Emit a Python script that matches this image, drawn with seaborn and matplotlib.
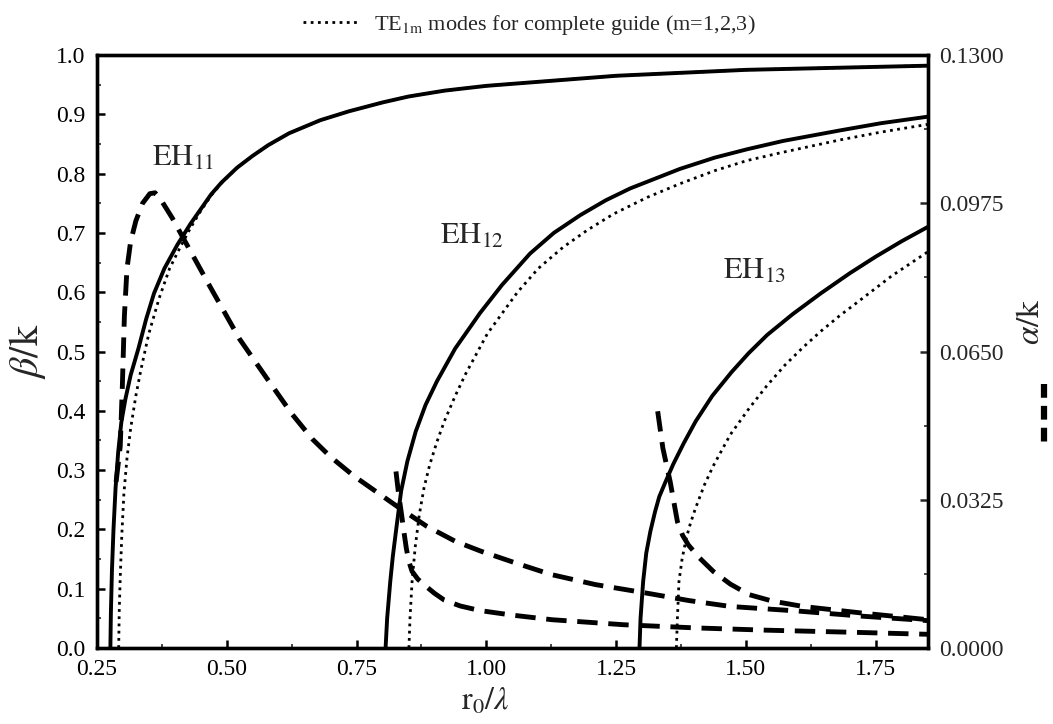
import numpy as np
import pandas as pd
import matplotlib
matplotlib.use("Agg")
import matplotlib.pyplot as plt
from matplotlib.lines import Line2D
from matplotlib.ticker import MultipleLocator, FixedLocator, FormatStrFormatter
import seaborn as sns

# ---------------- data ----------------
# beta/k curves (left axis)
eh11_x = [0.276, 0.277, 0.279, 0.282, 0.286, 0.291, 0.297, 0.305, 0.315, 0.33, 0.345, 0.36, 0.38, 0.405, 0.43, 0.45,
          0.47, 0.49, 0.52, 0.55, 0.58, 0.62, 0.68, 0.735, 0.80, 0.85, 0.92, 1.0, 1.25, 1.5, 1.85]
eh11_b = [0.0, 0.06, 0.13, 0.20, 0.27, 0.33, 0.38, 0.42, 0.46, 0.505, 0.555, 0.598, 0.64, 0.68, 0.715, 0.74,
          0.765, 0.785, 0.81, 0.83, 0.848, 0.868, 0.89, 0.905, 0.92, 0.93, 0.94, 0.948, 0.965, 0.975, 0.982]

te11_x = [0.292, 0.293, 0.295, 0.298, 0.302, 0.308, 0.315, 0.325, 0.335, 0.35, 0.37, 0.39, 0.41, 0.43, 0.45,
          0.47, 0.49, 0.52, 0.55, 0.58, 0.62, 0.68, 0.735, 0.80, 0.85, 0.92, 1.0, 1.25, 1.5, 1.85]
te11_b = [0.0, 0.06, 0.12, 0.19, 0.26, 0.32, 0.37, 0.425, 0.47, 0.53, 0.59, 0.64, 0.675, 0.708, 0.737,
          0.763, 0.784, 0.81, 0.83, 0.848, 0.868, 0.89, 0.905, 0.92, 0.93, 0.94, 0.948, 0.965, 0.975, 0.982]

eh12_x = [0.806, 0.809, 0.815, 0.82, 0.826, 0.836, 0.848, 0.864, 0.883, 0.905, 0.94, 0.988, 1.03, 1.084, 1.13,
          1.181, 1.23, 1.277, 1.373, 1.44, 1.502, 1.571, 1.682, 1.76, 1.85]
eh12_b = [0.0, 0.05, 0.112, 0.155, 0.197, 0.265, 0.315, 0.365, 0.41, 0.45, 0.505, 0.565, 0.612, 0.665, 0.70,
          0.73, 0.755, 0.775, 0.808, 0.827, 0.841, 0.855, 0.873, 0.885, 0.896]

te12_x = [0.851, 0.853, 0.857, 0.863, 0.871, 0.88, 0.891, 0.905, 0.919, 0.94, 0.96, 1.002, 1.06, 1.10, 1.148,
          1.195, 1.245, 1.31, 1.373, 1.44, 1.502, 1.571, 1.682, 1.76, 1.85]
te12_b = [0.0, 0.05, 0.112, 0.17, 0.225, 0.27, 0.309, 0.348, 0.382, 0.425, 0.462, 0.53, 0.60, 0.64, 0.676,
          0.705, 0.732, 0.76, 0.783, 0.805, 0.822, 0.836, 0.857, 0.87, 0.883]

eh13_x = [1.295, 1.297, 1.302, 1.308, 1.316, 1.325, 1.333, 1.345, 1.36, 1.38, 1.403, 1.435, 1.472, 1.505, 1.541,
          1.59, 1.644, 1.70, 1.75, 1.80, 1.85]
eh13_b = [0.0, 0.05, 0.112, 0.16, 0.197, 0.23, 0.255, 0.28, 0.31, 0.345, 0.382, 0.425, 0.465, 0.497, 0.528,
          0.563, 0.598, 0.632, 0.66, 0.686, 0.71]

te13_x = [1.366, 1.368, 1.371, 1.377, 1.385, 1.393, 1.403, 1.42, 1.437, 1.47, 1.506, 1.54, 1.575, 1.61, 1.644,
          1.68, 1.713, 1.78, 1.85]
te13_b = [0.0, 0.05, 0.112, 0.15, 0.185, 0.21, 0.236, 0.275, 0.307, 0.36, 0.404, 0.442, 0.477, 0.507, 0.534,
          0.56, 0.582, 0.627, 0.668]

# alpha/k curves (right axis)
a11_x = [0.287, 0.295, 0.299, 0.303, 0.308, 0.315, 0.325, 0.338, 0.352, 0.362, 0.372, 0.395, 0.42, 0.47, 0.525,
         0.575, 0.625, 0.665, 0.70, 0.745, 0.79, 0.83, 0.885, 0.94, 0.99, 1.06, 1.125, 1.21, 1.305, 1.39, 1.47,
         1.60, 1.72, 1.85]
a11_a = [0.0364, 0.0442, 0.0572, 0.0728, 0.0832, 0.0891, 0.0936, 0.0975, 0.0996, 0.0998, 0.0985, 0.0943, 0.0891,
         0.0788, 0.0677, 0.0595, 0.0514, 0.0458, 0.0419, 0.0377, 0.0341, 0.0309, 0.0267, 0.0234, 0.0212, 0.0185,
         0.0161, 0.0139, 0.0121, 0.0104, 0.0091, 0.0081, 0.0070, 0.0060]

a12_x = [0.826, 0.831, 0.836, 0.841, 0.846, 0.851, 0.857, 0.868, 0.884, 0.90, 0.919, 0.95, 0.988, 1.05, 1.126,
         1.264, 1.403, 1.54, 1.72, 1.85]
a12_a = [0.0387, 0.0338, 0.0299, 0.0257, 0.0218, 0.0189, 0.0168, 0.0151, 0.0135, 0.0120, 0.0105, 0.0092, 0.0082,
         0.0072, 0.0062, 0.0051, 0.0044, 0.0039, 0.0034, 0.0030]

a13_x = [1.330, 1.340, 1.354, 1.368, 1.378, 1.389, 1.41, 1.437, 1.47, 1.506, 1.55, 1.61, 1.72, 1.85]
a13_a = [0.0519, 0.0438, 0.0365, 0.0277, 0.0247, 0.0226, 0.0198, 0.0168, 0.0140, 0.0117, 0.0103, 0.0091, 0.0077,
         0.0062]

x_ticks = [0.25, 0.50, 0.75, 1.00, 1.25, 1.50, 1.75]
y_ticks = [0.0, 0.1, 0.2, 0.3, 0.4, 0.5, 0.6, 0.7, 0.8, 0.9, 1.0]
a_ticks = [0.0, 0.0325, 0.0650, 0.0975, 0.1300]

mode_labels = [r"$\mathrm{EH}_{11}$", r"$\mathrm{EH}_{12}$", r"$\mathrm{EH}_{13}$"]
mode_label_pos = [(0.356, 0.825), (0.91, 0.695), (1.455, 0.635)]
legend_text = r"TE$_{\mathrm{1m}}$ modes for complete guide (m=1,2,3)"

# ---------------- style ----------------
sns.set_style("ticks")
plt.rcParams["font.family"] = ["Liberation Serif", "DejaVu Serif"]
plt.rcParams["mathtext.fontset"] = "stix"

fig = plt.figure(figsize=(10.53, 7.24), dpi=100)
ax = fig.add_axes([0.092, 0.105, 0.789, 0.819])

solid_kw = dict(color="black", lw=2.8, linestyle="-")
dot_kw = dict(color="black", lw=2.0, linestyle=(0, (1, 1.6)))
dash_kw = dict(color="black", lw=3.5, linestyle=(0, (4.2, 2.2)))

for xs, ys in [(te11_x, te11_b), (te12_x, te12_b), (te13_x, te13_b)]:
    sns.lineplot(x=xs, y=ys, ax=ax, sort=False, errorbar=None, **dot_kw)
for xs, ys in [(eh11_x, eh11_b), (eh12_x, eh12_b), (eh13_x, eh13_b)]:
    sns.lineplot(x=xs, y=ys, ax=ax, sort=False, errorbar=None, **solid_kw)

ax2 = ax.twinx()
for xs, ys in [(a11_x, a11_a), (a12_x, a12_a), (a13_x, a13_a)]:
    sns.lineplot(x=xs, y=ys, ax=ax2, sort=False, errorbar=None, **dash_kw)

ax.set_xlim(0.25, 1.85)
ax.set_ylim(0.0, 1.0)
ax2.set_ylim(0.0, 0.13)

ax.xaxis.set_major_locator(FixedLocator(x_ticks))
ax.xaxis.set_minor_locator(MultipleLocator(0.125))
ax.yaxis.set_major_locator(FixedLocator(y_ticks))
ax.yaxis.set_minor_locator(MultipleLocator(0.05))
ax.xaxis.set_major_formatter(FormatStrFormatter("%.2f"))
ax.yaxis.set_major_formatter(FormatStrFormatter("%.1f"))
ax2.yaxis.set_major_locator(FixedLocator(a_ticks))
ax2.yaxis.set_minor_locator(MultipleLocator(0.01625))
ax2.yaxis.set_major_formatter(FormatStrFormatter("%.4f"))

for a in (ax, ax2):
    for s in a.spines.values():
        s.set_visible(True)
        s.set_linewidth(2.4)
        s.set_color("black")
ax.tick_params(axis="both", which="major", direction="in", length=6, width=1.8, labelsize=17, pad=8, colors="black")
ax.tick_params(axis="both", which="minor", direction="in", length=3, width=1.2)
ax.tick_params(axis="y", right=False)
ax2.tick_params(axis="y", which="major", direction="in", length=6, width=1.8, labelsize=17, pad=8)
ax2.tick_params(axis="y", which="minor", direction="in", length=3, width=1.2)

ax.set_xlabel(r"$\mathrm{r}_0/\lambda$", fontsize=23, labelpad=4)
ax.xaxis.set_label_coords((485 - 97) / 831, -0.065)
ax.set_ylabel(r"$\beta/\mathrm{k}$", fontsize=29, labelpad=6)
ax2.set_ylabel("")
fig.text(0.979, 0.555, r"$\alpha/\mathrm{k}$", rotation=90, fontsize=24, ha="center", va="center")
fig.add_artist(Line2D([0.991, 0.991], [0.47, 0.39], transform=fig.transFigure, color="black",
                      lw=4.5, linestyle=(0, (2.2, 1.3))))

for lab, (lx, ly) in zip(mode_labels, mode_label_pos):
    ax.text(lx, ly, lab, fontsize=22, ha="left", va="center")

handle = Line2D([], [], **dot_kw)
leg = ax.legend([handle], [legend_text], loc="lower center", bbox_to_anchor=(0.52, 1.0),
                frameon=False, fontsize=16, handlelength=2.6, handletextpad=0.6, borderaxespad=0.4)

fig.savefig("out.png", dpi=100)
